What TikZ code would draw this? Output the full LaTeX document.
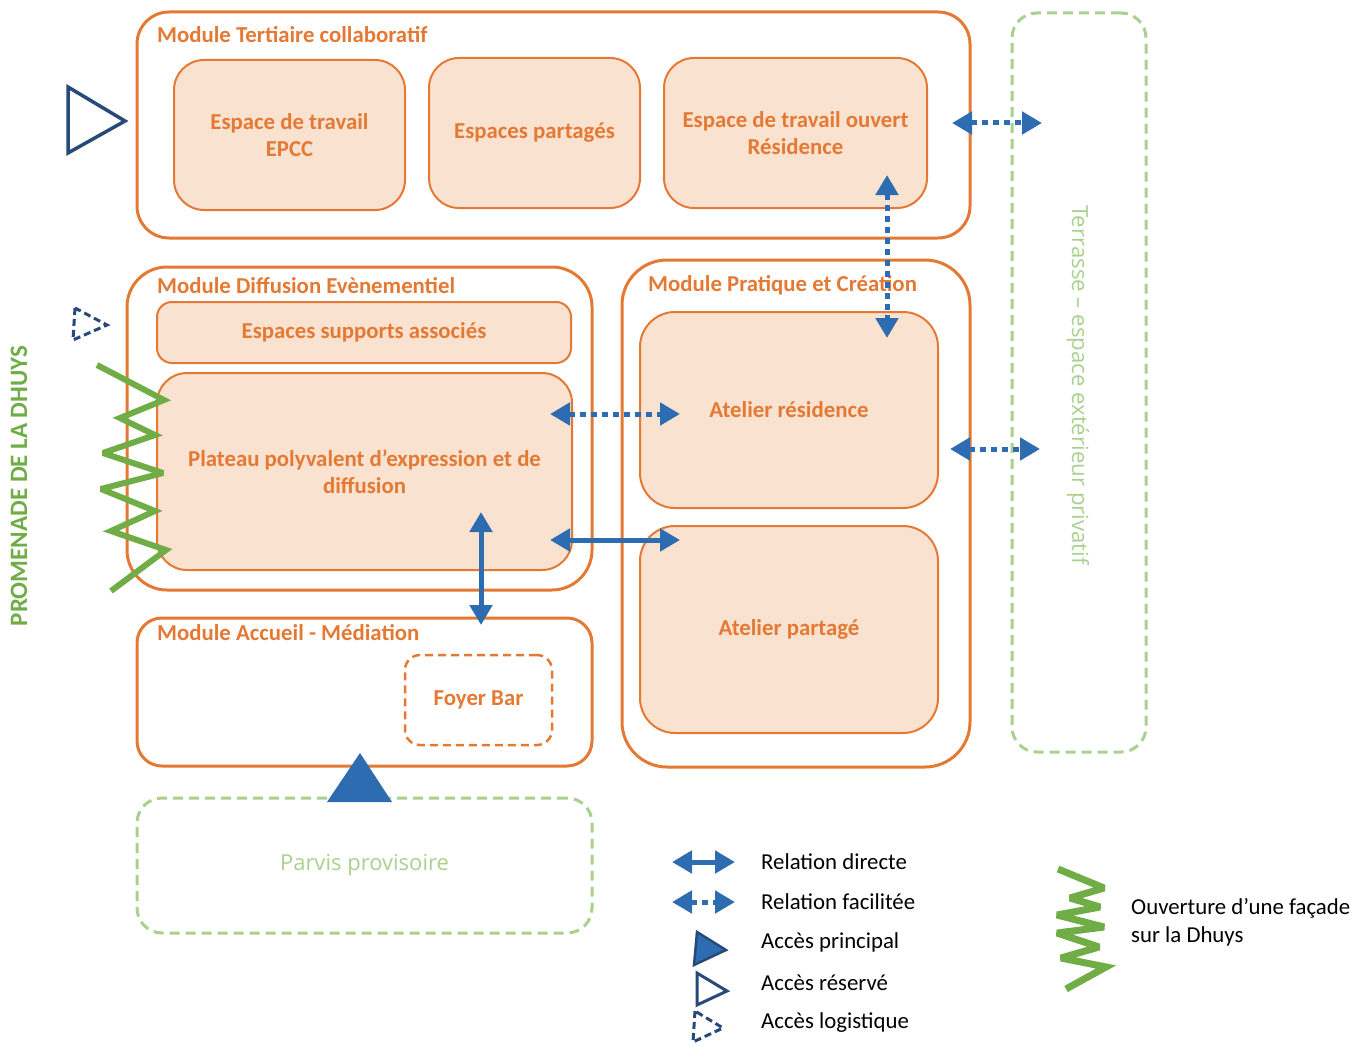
\documentclass[tikz,border=0pt]{standalone}
\usepackage{fontspec}
\setmainfont{Carlito}
\newfontfamily\lightfont{Open Sans}
\usetikzlibrary{arrows.meta}
\definecolor{orng}{RGB}{228,121,51}
\definecolor{peach}{RGB}{250,226,209}
\definecolor{blu}{RGB}{46,108,178}
\definecolor{dblu}{RGB}{40,74,120}
\definecolor{grn}{RGB}{112,173,71}
\definecolor{lgrn}{RGB}{169,209,142}
\begin{document}
\begin{tikzpicture}[x=1pt,y=-1pt,
 module/.style={draw=orng, line width=3pt, inner sep=0pt},
 room/.style={draw=orng, fill=peach, line width=2pt, text=orng, font=\bfseries\fontsize{22.8}{27}\selectfont, align=center, inner sep=0pt},
 title/.style={text=orng, font=\bfseries\fontsize{22.8}{27}\selectfont, anchor=west, inner sep=0pt},
 direct/.style={draw=blu, line width=5pt, {Triangle[width=22pt,length=20pt]}-{Triangle[width=22pt,length=20pt]}},
 facil/.style={direct, dash pattern=on 6pt off 5pt},
 legtext/.style={font=\fontsize{22.8}{28}\selectfont, anchor=west, inner sep=0pt, align=left},
 zig/.style={draw=grn, line width=6pt, line join=miter, miter limit=3},
 greentext/.style={text=lgrn, font=\lightfont\fontsize{22}{26}\selectfont, inner sep=0pt},
]
\useasboundingbox (0,0) rectangle (1364,1046);
% outer modules
\node[module, rounded corners=32pt, minimum width=833pt, minimum height=226pt] (mtert) at (553.5,125) {};
\node[module, rounded corners=40pt, minimum width=465pt, minimum height=323pt] (mdiff) at (359.5,428.5) {};
\node[module, rounded corners=45pt, minimum width=348pt, minimum height=507pt] (mprat) at (796,513.5) {};
\node[module, rounded corners=25pt, minimum width=455pt, minimum height=148pt] (maccu) at (364.5,692) {};
\node[draw=lgrn, line width=3pt, dash pattern=on 10pt off 6pt, rounded corners=25pt, minimum width=455pt, minimum height=135pt, greentext] (parvis) at (364.5,865.5) {Parvis provisoire};
\node[draw=lgrn, line width=3pt, dash pattern=on 10pt off 6pt, rounded corners=25pt, minimum width=134pt, minimum height=739pt, inner sep=0pt] (terr) at (1079,382.5) {};
\node[greentext, rotate=-90, font=\lightfont\fontsize{22.2}{26}\selectfont] (terrtxt) at (1078,385) {Terrasse – espace extérieur privatif};
% titles
\node[title] (t1) at (157,35) {Module Tertiaire collaboratif};
\node[title] (t2) at (157,286) {Module Diffusion Evènementiel};
\node[title] (t3) at (648,285) {Module Pratique et Création};
\node[title] (t4) at (157,633) {Module Accueil - Médiation};
% rooms
\node[room, rounded corners=30pt, minimum width=231pt, minimum height=150pt] (epcc) at (289.5,135) {Espace de travail\\EPCC};
\node[room, rounded corners=30pt, minimum width=211pt, minimum height=150pt] (partages) at (534.5,133) {Espaces partagés};
\node[room, rounded corners=30pt, minimum width=263pt, minimum height=150pt] (ouvert) at (795.5,133) {Espace de travail ouvert\\Résidence};
\node[room, rounded corners=15pt, minimum width=414pt, minimum height=61pt] (supports) at (364,332.5) {Espaces supports associés};
\node[room, rounded corners=30pt, minimum width=415pt, minimum height=197pt] (plateau) at (364.5,471.5) {Plateau polyvalent d’expression et de\\diffusion};
\node[room, rounded corners=35pt, minimum width=298pt, minimum height=196pt] (atres) at (789,410) {Atelier résidence};
\node[room, rounded corners=35pt, minimum width=298pt, minimum height=207pt] (atpart) at (789,629.5) {Atelier partagé};
\node[draw=orng, line width=2.5pt, dash pattern=on 8pt off 5pt, rounded corners=15pt, minimum width=147pt, minimum height=90pt, text=orng, font=\bfseries\fontsize{22.8}{27}\selectfont, inner sep=0pt] (foyer) at (478.5,700) {Foyer Bar};
% left side
\node[text=grn, font=\bfseries\fontsize{25}{29}\selectfont, rotate=90, inner sep=0pt] (prom) at (19,486) {PROMENADE DE LA DHUYS};
\draw[dblu, line width=3.5pt, line join=miter] (68,87) -- (68,153) -- (125,121) -- cycle;
\draw[dblu, line width=3pt, dash pattern=on 7pt off 4pt] (75,308) -- (73,340) -- (107,325) -- cycle;
\draw[zig] (97,365) -- (164,400) -- (120,418) -- (155,435) -- (103,453) -- (163,473) -- (101,489) -- (155,511) -- (111,531) -- (166,550) -- (111,591);
% main access
\fill[blu] (360,753) -- (327,802) -- (392,802) -- cycle;
% relations
\coordinate (a1) at (952,123); \coordinate (a2) at (1042,123);
\coordinate (b1) at (887,175); \coordinate (b2) at (887,338);
\coordinate (c1) at (550,414); \coordinate (c2) at (680,414);
\coordinate (d1) at (550,540); \coordinate (d2) at (680,540);
\coordinate (e1) at (481,512); \coordinate (e2) at (481,625);
\coordinate (f1) at (950,449); \coordinate (f2) at (1040,449);
\draw[facil] (a1) -- (a2);
\draw[facil] (b1) -- (b2);
\draw[facil] (c1) -- (c2);
\draw[direct] (d1) -- (d2);
\draw[direct] (e1) -- (e2);
\draw[facil] (f1) -- (f2);
% legend
\coordinate (l1a) at (672,862); \coordinate (l1b) at (735,862);
\coordinate (l2a) at (672,902); \coordinate (l2b) at (735,902);
\draw[direct] (l1a) -- (l1b);
\draw[facil] (l2a) -- (l2b);
\draw[dblu, fill=blu, line width=2.5pt, line join=miter] (697,932) -- (694,965) -- (726,950) -- cycle;
\draw[dblu, line width=3pt, line join=miter] (697,973) -- (697,1005) -- (727,991) -- cycle;
\draw[dblu, line width=3pt, dash pattern=on 7pt off 4pt] (695,1011) -- (693,1042) -- (723,1028) -- cycle;
\node[legtext] (lt1) at (761,862) {Relation directe};
\node[legtext] (lt2) at (761,902) {Relation facilitée};
\node[legtext] (lt3) at (761,942) {Accès principal};
\node[legtext] (lt4) at (761,983) {Accès réservé};
\node[legtext] (lt5) at (761,1023) {Accès logistique};
\draw[zig, line width=7pt] (1058,869) -- (1104,888) -- (1070,898) -- (1100,907) -- (1057,915) -- (1104,927) -- (1057,933) -- (1099,947) -- (1061,958) -- (1106,967) -- (1066,989);
\node[legtext] (lt6) at (1131,922) {Ouverture d’une façade\\sur la Dhuys};
\end{tikzpicture}
\end{document}
